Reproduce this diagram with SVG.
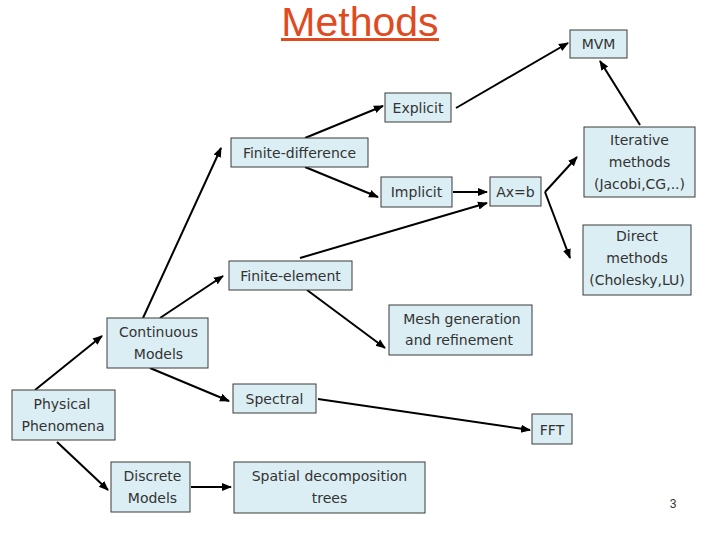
<svg xmlns="http://www.w3.org/2000/svg" width="720" height="540" viewBox="0 0 720 540">
<style>
.box{fill:#DBEEF3;stroke:#3a3a3a;stroke-width:1}
.t{font-family:"DejaVu Sans","Liberation Sans",sans-serif;font-size:14px;fill:#333;text-anchor:middle;dominant-baseline:central}
.c{stroke:#000;stroke-width:2;fill:none;marker-end:url(#ah)}
</style>
<defs>
<marker id="ah" markerUnits="userSpaceOnUse" markerWidth="10" markerHeight="10" viewBox="0 0 10 10" refX="9" refY="5" orient="auto">
<path d="M0,1 L10,5 L0,9 Z" fill="#000"/>
</marker>
</defs>
<rect width="720" height="540" fill="#fff"/>
<g id="title">
<text x="360" y="36" font-family="Liberation Sans,Arial,sans-serif" font-size="41" fill="#E04A1F" text-anchor="middle">Methods</text>
<rect x="281" y="38" width="158" height="3" fill="#E04A1F"/>
</g>
<g id="connectors">
<line class="c" x1="35" y1="390" x2="102" y2="336"/>
<line class="c" x1="57" y1="442" x2="108" y2="490"/>
<line class="c" x1="143" y1="318" x2="221" y2="148"/>
<line class="c" x1="160" y1="318" x2="223" y2="276"/>
<line class="c" x1="150" y1="368" x2="229" y2="401"/>
<line class="c" x1="305" y1="138" x2="383" y2="106"/>
<line class="c" x1="305" y1="167" x2="378" y2="197"/>
<line class="c" x1="453" y1="192" x2="487" y2="192"/>
<line class="c" x1="300" y1="258" x2="487" y2="203"/>
<line class="c" x1="307" y1="290" x2="385" y2="348"/>
<line class="c" x1="545" y1="192" x2="577" y2="157"/>
<line class="c" x1="545" y1="192" x2="570" y2="258"/>
<line class="c" x1="456" y1="108" x2="568" y2="43"/>
<line class="c" x1="640" y1="125" x2="600" y2="61"/>
<line class="c" x1="318" y1="399" x2="530" y2="430"/>
<line class="c" x1="191" y1="487" x2="231" y2="487"/>
</g>
<g id="mvm"><rect class="box" x="570" y="30" width="57" height="28"/><text class="t" x="598.5" y="44">MVM</text></g>
<g id="explicit"><rect class="box" x="385" y="93" width="66" height="29"/><text class="t" x="418" y="107.5">Explicit</text></g>
<g id="finite-difference"><rect class="box" x="231" y="138" width="137" height="29"/><text class="t" x="299.5" y="152.5">Finite-difference</text></g>
<g id="implicit"><rect class="box" x="381" y="177" width="71" height="30"/><text class="t" x="416.5" y="192">Implicit</text></g>
<g id="axb"><rect class="box" x="490" y="177" width="51" height="29"/><text class="t" x="515.5" y="191.5">Ax=b</text></g>
<g id="iterative"><rect class="box" x="584" y="127" width="111" height="70"/><text class="t" x="639.5" y="140">Iterative</text><text class="t" x="639.5" y="162">methods</text><text class="t" x="639.5" y="184">(Jacobi,CG,..)</text></g>
<g id="direct"><rect class="box" x="583" y="225" width="108" height="70"/><text class="t" x="637" y="236">Direct</text><text class="t" x="637" y="258">methods</text><text class="t" x="637" y="280">(Cholesky,LU)</text></g>
<g id="finite-element"><rect class="box" x="229" y="261" width="123" height="29"/><text class="t" x="290.5" y="275.5">Finite-element</text></g>
<g id="mesh"><rect class="box" x="389" y="305" width="143" height="50"/><text class="t" x="462" y="319">Mesh generation</text><text class="t" x="459" y="340">and refinement</text></g>
<g id="continuous"><rect class="box" x="107" y="318" width="101" height="50"/><text class="t" x="158.5" y="332">Continuous</text><text class="t" x="158.5" y="354">Models</text></g>
<g id="physical"><rect class="box" x="12" y="390" width="103" height="50"/><text class="t" x="62" y="404">Physical</text><text class="t" x="63" y="426">Phenomena</text></g>
<g id="spectral"><rect class="box" x="233" y="384" width="83" height="29"/><text class="t" x="274.5" y="399">Spectral</text></g>
<g id="fft"><rect class="box" x="532" y="414" width="40" height="30"/><text class="t" x="552" y="429.5">FFT</text></g>
<g id="discrete"><rect class="box" x="111" y="462" width="79" height="50"/><text class="t" x="152.5" y="476">Discrete</text><text class="t" x="152.5" y="498">Models</text></g>
<g id="spatial"><rect class="box" x="234" y="462" width="191" height="51"/><text class="t" x="329.5" y="476">Spatial decomposition</text><text class="t" x="329.5" y="498">trees</text></g>
<text x="673" y="508" font-family="Liberation Sans,Arial,sans-serif" font-size="12" fill="#333" text-anchor="middle">3</text>
</svg>
